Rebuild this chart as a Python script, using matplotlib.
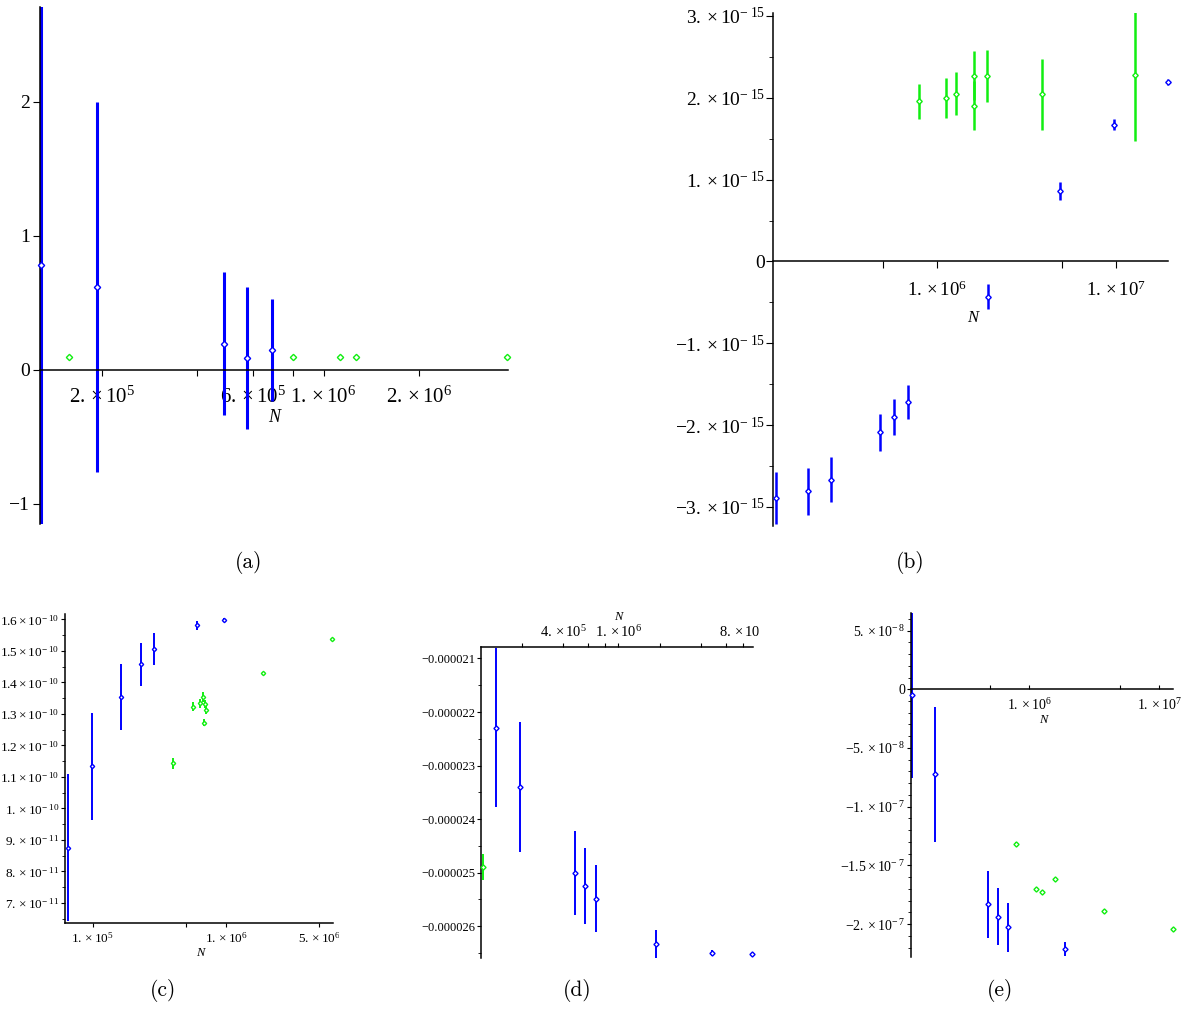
import matplotlib.pyplot as plt
from matplotlib.ticker import NullLocator
from matplotlib.patches import Rectangle

plt.rcParams['mathtext.fontset'] = 'custom'
plt.rcParams['mathtext.rm'] = 'Liberation Serif'
plt.rcParams['mathtext.it'] = 'Liberation Serif:italic'
plt.rcParams['font.family'] = 'Liberation Serif'

BLUE = '#0000ff'
GREEN = '#11ee11'

# panel (a)
a_blue_N = [1.285e5, 1.93e5, 4.86e5, 5.75e5, 6.87e5]
a_blue_val = [0.78, 0.62, 0.196, 0.085, 0.146]
a_blue_err = [2.5, 1.38, 0.53, 0.53, 0.38]
a_green_N = [1.57e5, 8.0e5, 1.13e6, 1.27e6, 3.80e6]
a_green_val = [0.093, 0.093, 0.093, 0.093, 0.093]
a_green_err = [0.004, 0.004, 0.004, 0.004, 0.004]

# panel (b), values in units of 1e-15
b_blue_N = [1.28e5, 1.93e5, 2.57e5, 4.87e5, 5.80e5, 6.91e5, 1.93e6, 4.89e6, 9.7e6, 1.95e7]
b_blue_val = [-2.893, -2.809, -2.668, -2.090, -1.903, -1.715, -0.429, 0.861, 1.673, 2.192]
b_blue_err = [0.32, 0.29, 0.275, 0.23, 0.22, 0.21, 0.155, 0.108, 0.07, 0.035]
b_green_N = [8.0e5, 1.13e6, 1.28e6, 1.61e6, 1.61e6, 1.92e6, 3.86e6, 1.28e7]
b_green_val = [1.955, 1.998, 2.051, 2.267, 1.905, 2.263, 2.042, 2.276]
b_green_err = [0.218, 0.25, 0.266, 0.30, 0.30, 0.318, 0.437, 0.80]

# panel (c), values in units of 1e-11
c_blue_N = [6.53e4, 9.83e4, 1.63e5, 2.31e5, 2.90e5, 6.03e5, 9.6e5]
c_blue_val = [8.75, 11.34, 13.53, 14.58, 15.06, 15.81, 15.98]
c_blue_err = [2.33, 1.70, 1.05, 0.68, 0.5, 0.15, 0.05]
c_green_N = [4.0e5, 5.65e5, 6.38e5, 6.68e5, 7.0e5, 7.1e5, 6.84e5, 1.9e6, 6.27e6]
c_green_val = [11.43, 13.23, 13.33, 13.54, 13.31, 13.12, 12.72, 14.29, 15.38]
c_green_err = [0.18, 0.15, 0.15, 0.15, 0.12, 0.12, 0.12, 0.03, 0.03]

# panel (d), values in units of 1e-6
d_blue_N = [1.30e5, 1.94e5, 4.84e5, 5.71e5, 6.86e5, 1.88e6, 4.74e6, 9.33e6]
d_blue_val = [-22.29, -23.40, -25.007, -25.256, -25.486, -26.327, -26.50, -26.527]
d_blue_err = [1.48, 1.22, 0.79, 0.71, 0.63, 0.26, 0.06, 0.02]
d_green_N = [1.05e5]
d_green_val = [-24.895]
d_green_err = [0.243]

# panel (e), values in units of 1e-8
e_blue_N = [1.27e5, 1.92e5, 4.82e5, 5.75e5, 6.87e5, 1.9e6]
e_blue_val = [-0.486, -7.24, -18.31, -19.37, -20.27, -22.12]
e_blue_err = [7.1, 5.75, 2.87, 2.45, 2.08, 0.62]
e_green_N = [7.9e5, 1.13e6, 1.26e6, 1.59e6, 3.78e6, 1.26e7]
e_green_val = [-13.15, -17.04, -17.29, -16.18, -18.86, -20.44]
e_green_err = [0.12, 0.1, 0.1, 0.1, 0.08, 0.05]

W, H = 1186, 1009
fig = plt.figure(figsize=(W / 100, H / 100), dpi=100)


def sci(m, e):
    ex = str(e) if e >= 0 else r'-\;%d' % -e
    return r'$%s\times10^{%s}$' % (m, ex)


def make_ax(x0, y0, x1, y1, xlim, ylim):
    ax = fig.add_axes([x0 / W, 1 - y1 / H, (x1 - x0) / W, (y1 - y0) / H])
    ax.set_xscale('log')
    ax.set_xlim(*xlim)
    ax.set_ylim(*ylim)
    ax.patch.set_visible(False)
    ax.spines['right'].set_visible(False)
    ax.spines['top'].set_visible(False)
    for s in ax.spines.values():
        s.set_linewidth(1.1)
    ax.xaxis.set_minor_locator(NullLocator())
    return ax


def draw(ax, N, v, e, scale, color, lw, ms):
    v = [x * scale for x in v]
    e = [x * scale for x in e]
    ax.errorbar(N, v, yerr=e, fmt='none', ecolor=color, elinewidth=lw, capsize=0)
    ax.plot(N, v, ls='none', marker='D', ms=ms, mfc='white', mec=color,
            mew=1.0, clip_on=False, zorder=3)


def ftext(x, y, s, **kw):
    fig.text(x / W, 1 - y / H, s, ha='center', va='center', **kw)


# (a)
ax = make_ax(39.9, 6.8, 508.1, 524, (1.275e5, 3.82e6), (-1.15, 2.707))
ax.spines['bottom'].set_position(('data', 0))
draw(ax, a_blue_N, a_blue_val, a_blue_err, 1, BLUE, 2.2, 3.2)
draw(ax, a_green_N, a_green_val, a_green_err, 1, GREEN, 2.2, 3.2)
ax.set_xticks([2e5, 4e5, 6e5, 8e5, 1e6, 2e6],
              labels=[sci('2.', 5), '', sci('6.', 5), '', sci('1.', 6), sci('2.', 6)])
ax.set_yticks([-1, 0, 1, 2], labels=['$-1$', '0', '1', '2'])
ax.tick_params(axis='x', direction='out', length=4, pad=8, labelsize=15)
ax.tick_params(axis='y', direction='out', length=5, pad=2, labelsize=14)
ftext(274, 418, 'N', style='italic', fontsize=13)

# (b)
ax = make_ax(773.3, 12.7, 1168.3, 525.7, (1.23e5, 1.96e7), (-3.23e-15, 3.04e-15))
ax.spines['bottom'].set_position(('data', 0))
draw(ax, b_blue_N, b_blue_val, b_blue_err, 1e-15, BLUE, 1.8, 2.8)
draw(ax, b_green_N, b_green_val, b_green_err, 1e-15, GREEN, 1.8, 2.8)
ax.set_xticks([5e5, 1e6, 5e6, 1e7], labels=['', sci('1.', 6), '', sci('1.', 7)])
yt = [-3, -2, -1, 0, 1, 2, 3]
ax.set_yticks([k * 1e-15 for k in yt],
              labels=[sci('%d.' % k, -15) if k != 0 else '0' for k in yt])
ax.set_yticks([k * 1e-15 for k in [-2.5, -1.5, -0.5, 0.5, 1.5, 2.5]], minor=True)
ax.tick_params(axis='x', direction='out', length=5, pad=9, labelsize=13.5)
ax.tick_params(axis='y', which='major', direction='out', length=5, pad=1, labelsize=14)
ax.tick_params(axis='y', which='minor', direction='out', length=3)
ftext(973, 318, 'N', style='italic', fontsize=12)

# (c)
ax = make_ax(65.3, 614, 333, 922.7, (6.23e4, 6.35e6), (6.37e-11, 1.617e-10))
draw(ax, c_blue_N, c_blue_val, c_blue_err, 1e-11, BLUE, 1.4, 2.2)
draw(ax, c_green_N, c_green_val, c_green_err, 1e-11, GREEN, 1.4, 2.2)
ax.set_xticks([1e5, 5e5, 1e6, 5e6], labels=[sci('1.', 5), '', sci('1.', 6), sci('5.', 6)])
cy = [7, 8, 9, 10, 11, 12, 13, 14, 15, 16]
clab = [sci('%d.' % k, -11) for k in [7, 8, 9]] + [sci('1.', -10)] + \
       [sci('1.%d' % (k - 10), -10) for k in cy[4:]]
ax.set_yticks([k * 1e-11 for k in cy], labels=clab)
ax.set_yticks([(k + 0.5) * 1e-11 for k in cy[:-1]] + [6.5e-11], minor=True)
ax.tick_params(axis='x', direction='out', length=3, pad=3, labelsize=9.5)
ax.tick_params(axis='y', which='major', direction='out', length=3, pad=1, labelsize=9.5)
ax.tick_params(axis='y', which='minor', direction='out', length=2)
ftext(200, 953, 'N', style='italic', fontsize=9)

# (d)
ax = make_ax(481, 646.7, 753.3, 958.3, (1.015e5, 9.49e6), (-26.60e-6, -20.78e-6))
ax.spines['top'].set_visible(True)
ax.spines['bottom'].set_visible(False)
ax.xaxis.tick_top()
draw(ax, d_blue_N, d_blue_val, d_blue_err, 1e-6, BLUE, 1.4, 2.6)
draw(ax, d_green_N, d_green_val, d_green_err, 1e-6, GREEN, 1.4, 2.6)
ax.set_xticks([2e5, 4e5, 6e5, 8e5, 1e6, 2e6, 4e6, 6e6, 8e6],
              labels=['', sci('4.', 5), '', '', sci('1.', 6), '', '', '', sci('8.', 6)])
dy = [-21, -22, -23, -24, -25, -26]
ax.set_yticks([k * 1e-6 for k in dy], labels=['\u22120.0000%d' % -k for k in dy])
ax.set_yticks([(k - 0.5) * 1e-6 for k in dy], minor=True)
ax.tick_params(axis='x', direction='out', length=3, pad=2, labelsize=10.5)
ax.tick_params(axis='y', which='major', direction='out', length=3, pad=1, labelsize=9)
ax.tick_params(axis='y', which='minor', direction='out', length=2)
ftext(618, 617, 'N', style='italic', fontsize=9)

# (e)
ax = make_ax(910.7, 612.7, 1173, 957.3, (1.24e5, 1.27e7), (-2.283e-7, 6.52e-8))
ax.spines['bottom'].set_position(('data', 0))
draw(ax, e_blue_N, e_blue_val, e_blue_err, 1e-8, BLUE, 1.4, 2.6)
draw(ax, e_green_N, e_green_val, e_green_err, 1e-8, GREEN, 1.4, 2.6)
ax.set_xticks([5e5, 1e6, 5e6, 1e7], labels=['', sci('1.', 6), '', sci('1.', 7)])
ax.set_yticks([5e-8, 0, -5e-8, -1e-7, -1.5e-7, -2e-7],
              labels=[sci('5.', -8), '0', sci('-5.', -8), sci('-1.', -7),
                      sci('-1.5', -7), sci('-2.', -7)])
ax.set_yticks([k * 1e-8 for k in range(-22, 7) if k % 5 != 0], minor=True)
ax.tick_params(axis='x', direction='in', length=3, pad=6, labelsize=10)
ax.tick_params(axis='y', which='major', direction='out', length=3, pad=1, labelsize=10)
ax.tick_params(axis='y', which='minor', direction='out', length=2)
ftext(1043, 720, 'N', style='italic', fontsize=9)

# sub-figure crops cut some tick labels
fig.add_artist(Rectangle((339 / W, 1 - 945 / H), 76 / W, 35 / H,
                         transform=fig.transFigure, color='white', zorder=10))
fig.add_artist(Rectangle((759 / W, 1 - 640 / H), 90 / W, 40 / H,
                         transform=fig.transFigure, color='white', zorder=10))

for s, x, y in [('(a)', 249, 563), ('(b)', 910, 563), ('(c)', 163, 990),
                ('(d)', 577, 990), ('(e)', 1000, 990)]:
    ftext(x, y, s, family='cmr10', fontsize=15.5)

fig.savefig('out.png', dpi=100)
